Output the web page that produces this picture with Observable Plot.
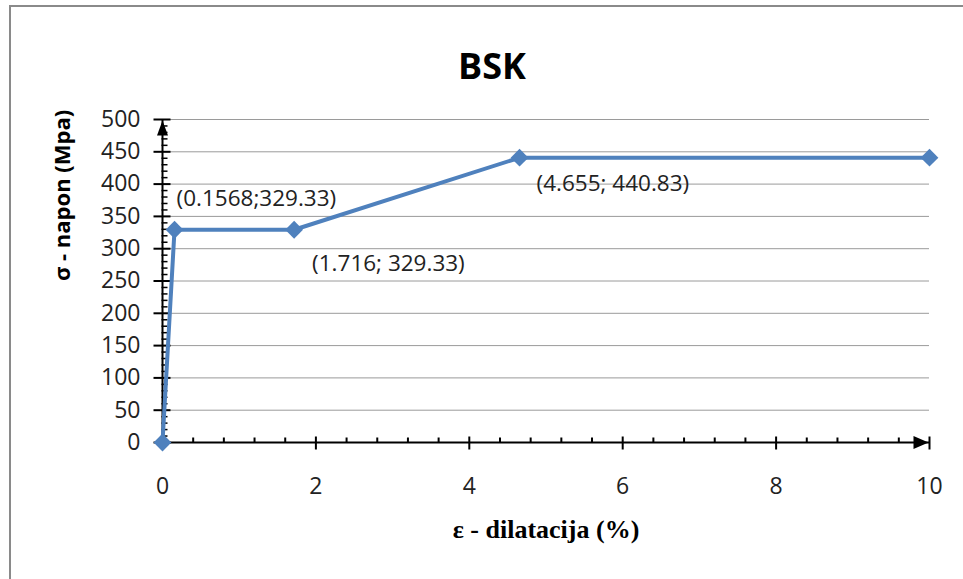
<!DOCTYPE html>
<html>
<head>
<meta charset="utf-8">
<script src="https://cdn.jsdelivr.net/npm/d3@7"></script>
<script src="https://cdn.jsdelivr.net/npm/@observablehq/plot@0.6"></script>
<style>
  html, body { margin: 0; padding: 0; background: #fff; }
  #wrap { position: relative; width: 963px; height: 579px; overflow: hidden; }
  #frame { position: absolute; left: 9px; top: 5px; width: 980px; height: 600px;
           border-top: 2px solid #8a8a8a; border-left: 2px solid #8a8a8a; pointer-events: none; }
</style>
</head>
<body>
<div id="wrap"><div id="frame"></div></div>
<script>
// ---- data ----
const strain = [0, 0.1568, 1.716, 4.655, 10];          // ε (%)
const stress = [0, 329.33, 329.33, 440.83, 440.83];    // σ (MPa)
const pointLabels = ["(0.1568;329.33)", "(1.716; 329.33)", "(4.655; 440.83)"];
const xTicks = [0, 2, 4, 6, 8, 10];
const yTicks = [0, 50, 100, 150, 200, 250, 300, 350, 400, 450, 500];
const title = "BSK";
const xTitle = "ε - dilatacija (%)";
const yTitle = "σ - napon (Mpa)";

const data = strain.map((x, i) => ({x, y: stress[i]}));
const xMinor = d3.range(0, 10.001, 0.4).filter(v => Math.abs(v / 2 - Math.round(v / 2)) > 1e-6);
const yMinor = d3.range(0, 501, 10).filter(v => v % 50 !== 0);

const sym = (fn) => ({draw(ctx) { fn(ctx); }});
const vTick = sym(c => { c.moveTo(0, -6); c.lineTo(0, 7); });
const vMinor = sym(c => { c.moveTo(0, -5); c.lineTo(0, 0); });
const hTick = sym(c => { c.moveTo(-9, 0); c.lineTo(8, 0); });
const hMinor = sym(c => { c.moveTo(-1, 0); c.lineTo(5, 0); });
const upArrow = sym(c => { c.moveTo(0, 1); c.lineTo(-5.5, 16); c.lineTo(5.5, 16); c.closePath(); });
const rightArrow = sym(c => { c.moveTo(-1, 0); c.lineTo(-16, -6.5); c.lineTo(-16, 6.5); c.closePath(); });

const sans = "'Open Sans', Lato, sans-serif";
const blue = "#4f81bd";

const chart = Plot.plot({
  width: 963,
  height: 579,
  marginLeft: 162,
  marginRight: 34,
  marginTop: 119,
  marginBottom: 137,
  x: {domain: [0, 10], axis: null},
  y: {domain: [0, 500], axis: null},
  style: {background: "transparent", fontFamily: sans, color: "#222"},
  marks: [
    Plot.ruleY(yTicks.filter(v => v > 0), {stroke: "#9a9a9a", strokeWidth: 1}),
    Plot.ruleX([0], {stroke: "#000", strokeWidth: 2}),
    Plot.ruleY([0], {stroke: "#000", strokeWidth: 2}),
    Plot.dot(xTicks, {x: d => d, y: 0, symbol: vTick, stroke: "#000", strokeWidth: 2, fill: "none"}),
    Plot.dot(xMinor, {x: d => d, y: 0, symbol: vMinor, stroke: "#000", strokeWidth: 2, fill: "none"}),
    Plot.dot(yTicks, {x: 0, y: d => d, symbol: hTick, stroke: "#000", strokeWidth: 2, fill: "none"}),
    Plot.dot(yMinor, {x: 0, y: d => d, symbol: hMinor, stroke: "#000", strokeWidth: 1.5, fill: "none"}),
    Plot.dot([500], {x: 0, y: d => d, symbol: upArrow, fill: "#000", stroke: "none"}),
    Plot.dot([10], {x: d => d, y: 0, symbol: rightArrow, fill: "#000", stroke: "none"}),
    Plot.text(yTicks, {x: 0, y: d => d, text: d => String(d), textAnchor: "end", dx: -22, fontSize: 23, fill: "#222"}),
    Plot.text(xTicks, {x: d => d, y: 0, text: d => String(d), dy: 44, fontSize: 23, fill: "#222"}),
    Plot.line(data, {x: "x", y: "y", stroke: blue, strokeWidth: 4}),
    Plot.dot(data, {x: "x", y: "y", symbol: "diamond2", r: 8, fill: blue, stroke: "none"}),
    Plot.text([data[1]], {x: "x", y: "y", text: () => pointLabels[0], textAnchor: "start", dx: 2, dy: -31, fontSize: 22.5, fill: "#222"}),
    Plot.text([data[2]], {x: "x", y: "y", text: () => pointLabels[1], textAnchor: "start", dx: 18, dy: 34, fontSize: 22.5, fill: "#222"}),
    Plot.text([data[3]], {x: "x", y: "y", text: () => pointLabels[2], textAnchor: "start", dx: 17, dy: 26, fontSize: 22.5, fill: "#222"}),
    Plot.text([title], {text: d => d, frameAnchor: "top", dx: -54, dy: -66, fontSize: 36, fontWeight: "bold", fontFamily: sans, fill: "#000", letterSpacing: 2}),
    Plot.text([xTitle], {text: d => d, frameAnchor: "bottom", dy: 95, fontSize: 26, fontWeight: "bold", fontFamily: "'Liberation Serif', 'Times New Roman', serif", fill: "#000"}),
    Plot.text([yTitle], {text: d => d, frameAnchor: "left", dx: -100, rotate: -90, fontSize: 22, fontWeight: "bold", fontFamily: sans, fill: "#000"})
  ]
});
document.getElementById("wrap").prepend(chart);
</script>
</body>
</html>
